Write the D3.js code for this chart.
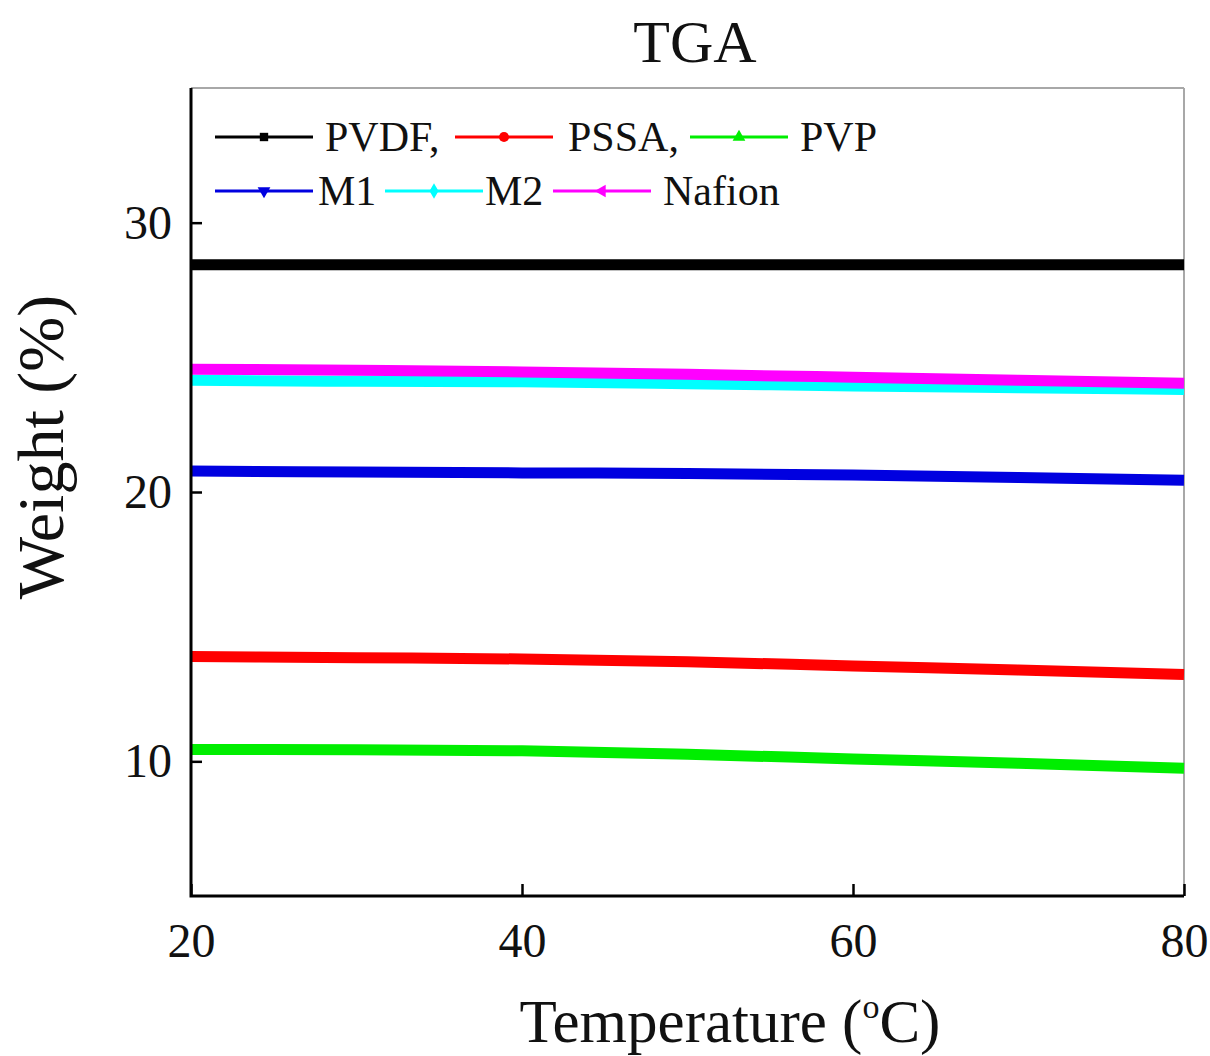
<!DOCTYPE html>
<html>
<head>
<meta charset="utf-8">
<script src="https://cdn.jsdelivr.net/npm/d3@7/dist/d3.min.js"></script>
<style>
  html, body { margin: 0; padding: 0; background: #fff; }
  svg { display: block; }
  text { font-family: "Liberation Serif", "Times New Roman", serif; fill: #111; }
</style>
</head>
<body>
<svg id="chart" width="1210" height="1056"></svg>
<script>
// Temperature samples (°C) and weight (%) of each membrane
const temperature = [20, 30, 40, 50, 60, 70, 80];
const pvdf   = [28.44, 28.44, 28.44, 28.44, 28.44, 28.44, 28.44];
const pssa   = [13.89, 13.85, 13.80, 13.70, 13.54, 13.39, 13.22];
const pvp    = [10.44, 10.43, 10.39, 10.26, 10.09, 9.93, 9.74];
const m1     = [20.78, 20.74, 20.71, 20.69, 20.63, 20.54, 20.44];
const m2     = [24.15, 24.11, 24.09, 24.02, 23.94, 23.87, 23.81];
const nafion = [24.56, 24.52, 24.46, 24.37, 24.26, 24.15, 24.04];

const seriesNames  = ["PVDF", "PSSA", "PVP", "M1", "M2", "Nafion"];
const legendLabels = ["PVDF,", "PSSA,", "PVP", "M1", "M2", "Nafion"];
const seriesColors = ["#000000", "#ff0000", "#00ee00", "#0000e0", "#00ffff", "#ff00ff"];
const seriesValues = [pvdf, pssa, pvp, m1, m2, nafion];
const markerShapes = ["square", "circle", "triangle", "triangleDown", "diamond", "triangleLeft"];

const xTicks = [20, 40, 60, 80];
const yTicks = [10, 20, 30];

const svg = d3.select("#chart");
const plot = { left: 191, right: 1184, top: 88, bottom: 896 };

const x = d3.scaleLinear().domain([20, 80]).range([plot.left, plot.right]);
const y = d3.scaleLinear().domain([5, 35]).range([plot.bottom, plot.top]);

// Title
svg.append("text")
  .attr("x", 695).attr("y", 62)
  .attr("text-anchor", "middle")
  .style("font-size", "60px")
  .text("TGA");

// Frame: dark left/bottom axes, light top/right border
svg.append("line")
  .attr("x1", plot.left).attr("x2", plot.right)
  .attr("y1", plot.top).attr("y2", plot.top)
  .attr("stroke", "#a8a8a8").attr("stroke-width", 2);
svg.append("line")
  .attr("x1", plot.right).attr("x2", plot.right)
  .attr("y1", plot.top).attr("y2", plot.bottom)
  .attr("stroke", "#a8a8a8").attr("stroke-width", 2);

// Data lines
const line = d3.line()
  .x((d, i) => x(temperature[i]))
  .y(d => y(d))
  .curve(d3.curveMonotoneX);

svg.append("g").selectAll("path")
  .data(seriesValues)
  .join("path")
  .attr("d", d => line(d))
  .attr("fill", "none")
  .attr("stroke", (d, i) => seriesColors[i])
  .attr("stroke-width", 11)
  .attr("stroke-linecap", "butt");

// Axes
const xAxis = d3.axisBottom(x)
  .tickValues(xTicks)
  .tickSizeInner(-12)
  .tickSizeOuter(0)
  .tickPadding(27);
const gx = svg.append("g")
  .attr("transform", `translate(0,${plot.bottom})`)
  .call(xAxis);
gx.select(".domain").remove();
gx.selectAll(".tick line").attr("stroke", "#000").attr("stroke-width", 2.5);
gx.selectAll(".tick text")
  .style("font-size", "48px")
  .attr("fill", "#111");

const yAxis = d3.axisLeft(y)
  .tickValues(yTicks)
  .tickSizeInner(-11)
  .tickSizeOuter(0)
  .tickPadding(19);
const gy = svg.append("g")
  .attr("transform", `translate(${plot.left},0)`)
  .call(yAxis);
gy.select(".domain").remove();
gy.selectAll(".tick line").attr("stroke", "#000").attr("stroke-width", 2.5);
gy.selectAll(".tick text")
  .style("font-size", "48px")
  .attr("fill", "#111");

svg.append("path")
  .attr("d", `M${plot.left},${plot.top} V${plot.bottom} H${plot.right}`)
  .attr("fill", "none")
  .attr("stroke", "#000")
  .attr("stroke-width", 3);

// Axis titles
svg.append("text")
  .attr("transform", "translate(63,447) rotate(-90)")
  .attr("text-anchor", "middle")
  .style("font-size", "66px")
  .text("Weight (%)");

const xt = svg.append("text")
  .attr("x", 730).attr("y", 1042)
  .attr("text-anchor", "middle")
  .style("font-size", "61px");
xt.append("tspan").text("Temperature (");
xt.append("tspan").attr("dy", -24).style("font-size", "34px").text("o");
xt.append("tspan").attr("dy", 24).text("C)");

// Legend
const legendLayout = [
  { row: 0, x0: 215, tx: 325 },
  { row: 0, x0: 455, tx: 568 },
  { row: 0, x0: 690, tx: 800 },
  { row: 1, x0: 215, tx: 318 },
  { row: 1, x0: 385, tx: 485 },
  { row: 1, x0: 553, tx: 663 }
];
const rowY = [137, 191];
const sampleLen = 98;

const symbolFor = {
  square: d3.symbol().type(d3.symbolSquare).size(70),
  circle: d3.symbol().type(d3.symbolCircle).size(80),
  triangle: d3.symbol().type(d3.symbolTriangle).size(70),
  triangleDown: d3.symbol().type(d3.symbolTriangle).size(70),
  diamond: d3.symbol().type(d3.symbolDiamond).size(70),
  triangleLeft: d3.symbol().type(d3.symbolTriangle).size(70)
};
const rotationFor = { triangleDown: 180, triangleLeft: -90 };

const legend = svg.append("g").selectAll("g")
  .data(seriesNames)
  .join("g")
  .attr("transform", (d, i) => `translate(0,${rowY[legendLayout[i].row]})`);

legend.append("line")
  .attr("x1", (d, i) => legendLayout[i].x0)
  .attr("x2", (d, i) => legendLayout[i].x0 + sampleLen)
  .attr("y1", 0).attr("y2", 0)
  .attr("stroke", (d, i) => seriesColors[i])
  .attr("stroke-width", 3);

legend.append("path")
  .attr("d", (d, i) => symbolFor[markerShapes[i]]())
  .attr("transform", (d, i) =>
    `translate(${legendLayout[i].x0 + sampleLen / 2},0) rotate(${rotationFor[markerShapes[i]] || 0})`)
  .attr("fill", (d, i) => seriesColors[i]);

legend.append("text")
  .attr("x", (d, i) => legendLayout[i].tx)
  .attr("y", 0)
  .attr("dy", "0.33em")
  .style("font-size", "42px")
  .text((d, i) => legendLabels[i]);
</script>
</body>
</html>
